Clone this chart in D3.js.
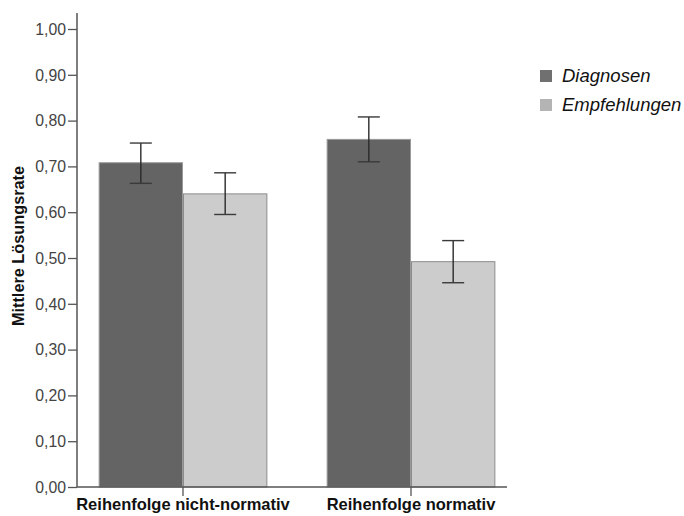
<!DOCTYPE html>
<html>
<head>
<meta charset="utf-8">
<script src="https://cdn.jsdelivr.net/npm/d3@7"></script>
<style>
  html, body { margin: 0; padding: 0; background: #fff; }
  svg { display: block; font-family: "Liberation Sans", Arial, sans-serif; }
</style>
</head>
<body>
<svg id="chart" width="684" height="516"></svg>
<script>
// Mean solution rate per presentation order, split by task type (with error bars)
const categories = ["Reihenfolge nicht-normativ", "Reihenfolge normativ"];
const seriesNames = ["Diagnosen", "Empfehlungen"];
const diagnosenMean = [0.708, 0.759];
const diagnosenLow = [0.663, 0.710];
const diagnosenHigh = [0.751, 0.808];
const empfehlungenMean = [0.640, 0.492];
const empfehlungenLow = [0.595, 0.446];
const empfehlungenHigh = [0.686, 0.538];
const yTicks = [0, 0.1, 0.2, 0.3, 0.4, 0.5, 0.6, 0.7, 0.8, 0.9, 1.0];

const colors = { "Diagnosen": "#646464", "Empfehlungen": "#cccccc" };
const strokes = { "Diagnosen": "#9a9a9a", "Empfehlungen": "#8c8c8c" };

const rows = [];
categories.forEach((c, i) => {
  rows.push({ cat: c, series: "Diagnosen", v: diagnosenMean[i], lo: diagnosenLow[i], hi: diagnosenHigh[i] });
  rows.push({ cat: c, series: "Empfehlungen", v: empfehlungenMean[i], lo: empfehlungenLow[i], hi: empfehlungenHigh[i] });
});

const svg = d3.select("#chart");
const axisX0 = 77, axisX1 = 507, axisTop = 13;

const y = d3.scaleLinear().domain([0, 1]).range([487, 29]);
const x0 = d3.scaleBand().domain(categories).range([69, 525]).paddingInner(0.26).paddingOuter(0.13);
const x1 = d3.scaleBand().domain(seriesNames).range([0, x0.bandwidth()]);

// bars
const groups = svg.append("g").selectAll("g").data(categories).join("g")
  .attr("transform", d => `translate(${x0(d)},0)`);

groups.selectAll("rect")
  .data(c => rows.filter(r => r.cat === c))
  .join("rect")
  .attr("x", d => x1(d.series) + 0.5)
  .attr("y", d => y(d.v))
  .attr("width", x1.bandwidth() - 1)
  .attr("height", d => y(0) - y(d.v))
  .attr("fill", d => colors[d.series])
  .attr("stroke", d => strokes[d.series])
  .attr("stroke-width", 1);

// error bars
const capHalf = 11;
const eb = groups.selectAll("g.err")
  .data(c => rows.filter(r => r.cat === c))
  .join("g").attr("class", "err")
  .attr("transform", d => `translate(${x1(d.series) + x1.bandwidth() / 2},0)`);
eb.append("line").attr("x1", 0).attr("x2", 0)
  .attr("y1", d => y(d.hi)).attr("y2", d => y(d.lo))
  .attr("stroke", "#2a2a2a").attr("stroke-width", 1.4);
eb.append("line").attr("x1", -capHalf).attr("x2", capHalf)
  .attr("y1", d => y(d.hi)).attr("y2", d => y(d.hi))
  .attr("stroke", "#3a3a3a").attr("stroke-width", 1.4);
eb.append("line").attr("x1", -capHalf).attr("x2", capHalf)
  .attr("y1", d => y(d.lo)).attr("y2", d => y(d.lo))
  .attr("stroke", "#3a3a3a").attr("stroke-width", 1.4);

// y axis
const yAxis = d3.axisLeft(y).tickValues(yTicks).tickSize(9).tickPadding(2)
  .tickFormat(d => d3.format(".2f")(d).replace(".", ","));
const gy = svg.append("g").attr("transform", `translate(${axisX0},0)`).call(yAxis);
gy.select(".domain").remove();
gy.selectAll(".tick line").attr("stroke", "#555").attr("stroke-width", 1.3);
gy.selectAll(".tick text").attr("fill", "#444").style("font-size", "15.8px").attr("dy", "0.34em");
svg.append("line").attr("x1", axisX0).attr("x2", axisX0).attr("y1", axisTop).attr("y2", y(0))
  .attr("stroke", "#555").attr("stroke-width", 1.5);

// x axis
svg.append("line").attr("x1", axisX0).attr("x2", axisX1).attr("y1", y(0)).attr("y2", y(0))
  .attr("stroke", "#555").attr("stroke-width", 1.5);
const xAxis = d3.axisBottom(x0).tickSize(9).tickPadding(3);
const gx = svg.append("g").attr("transform", `translate(0,${y(0)})`).call(xAxis);
gx.select(".domain").remove();
gx.selectAll(".tick line").attr("stroke", "#555").attr("stroke-width", 1.3);
gx.selectAll(".tick text").attr("fill", "#111").style("font-size", "16.5px")
  .style("font-weight", "bold").attr("dy", "0").attr("y", 23);

// y axis title
svg.append("text")
  .attr("transform", "translate(24,246) rotate(-90)")
  .attr("text-anchor", "middle")
  .attr("fill", "#111")
  .style("font-size", "16.3px").style("font-weight", "bold")
  .text("Mittlere Lösungsrate");

// legend
const legend = svg.append("g").selectAll("g").data(seriesNames).join("g")
  .attr("transform", (d, i) => `translate(540,${70 + i * 29})`);
legend.append("rect").attr("width", 12).attr("height", 12)
  .attr("fill", d => colors[d] === "#cccccc" ? "#b4b4b4" : "#707070");
legend.append("text").attr("x", 22).attr("y", 12)
  .attr("fill", "#111").style("font-size", "18.5px").style("font-style", "italic")
  .text(d => d);
</script>
</body>
</html>
